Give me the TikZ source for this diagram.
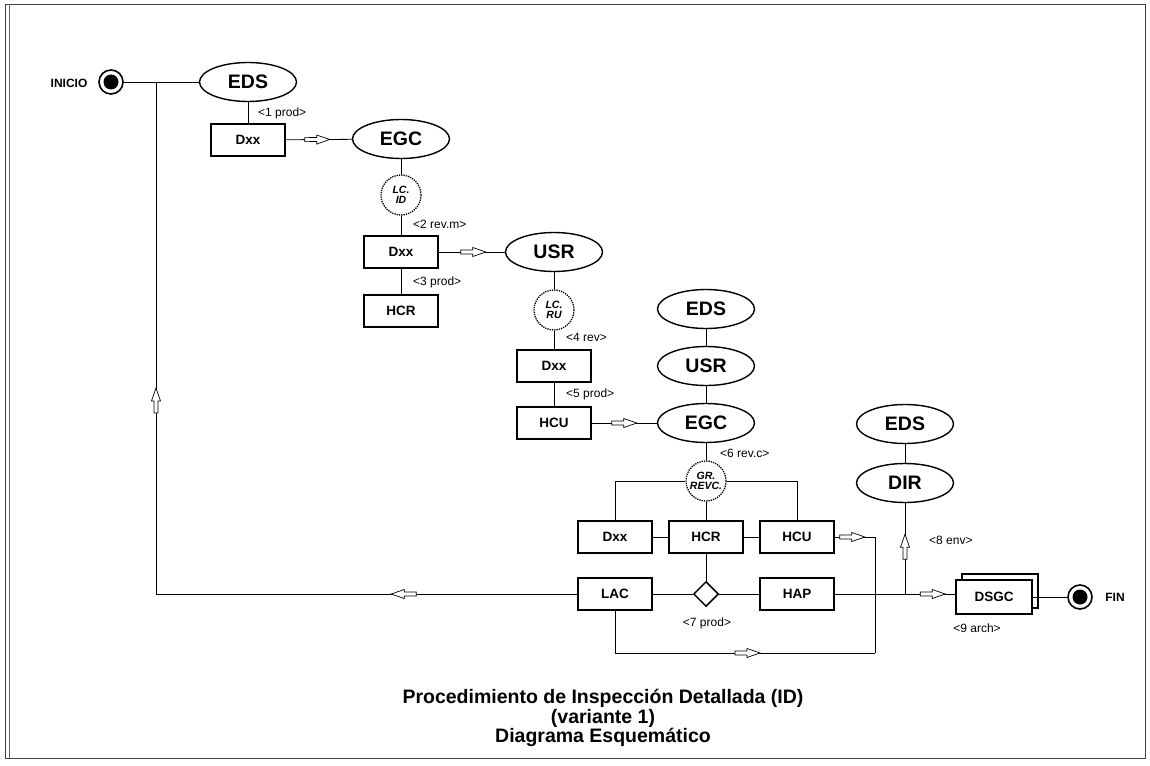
\documentclass[tikz,border=0pt]{standalone}
\usepackage{fontspec}
\setmainfont{Liberation Sans}
\usetikzlibrary{shapes.geometric,decorations.markings}

% hollow arrow head placed on a connector (tip at the mark)
\newcommand\hollowhead{%
  \draw[fill=white,line width=0.7pt,line join=miter]
    (0pt,0pt) -- (-13pt,4.5pt) -- (-13pt,2pt) -- (-25pt,2pt) -- (-25pt,-2pt)
    -- (-13pt,-2pt) -- (-13pt,-4.5pt) -- cycle;}

\tikzset{
  conn/.style={line width=0.8pt},
  flowat/.style={conn,postaction={decorate},
    decoration={markings,mark=at position #1 with {\hollowhead}}},
  ell/.style={ellipse,draw,line width=1.4pt,minimum width=97pt,minimum height=39pt,
    inner sep=0pt,fill=white,font=\fontsize{19.5}{19}\selectfont\bfseries},
  bx/.style={rectangle,draw,line width=1.5pt,minimum width=74pt,minimum height=32pt,
    inner sep=0pt,fill=white,font=\fontsize{13.5}{14}\selectfont\bfseries},
  chk/.style={circle,draw,densely dotted,line width=1.3pt,minimum size=40pt,inner sep=0pt,
    align=center,fill=white,font=\fontsize{10.5}{10}\selectfont\bfseries\itshape},
  lbl/.style={font=\fontsize{12}{12}\selectfont,inner sep=0pt},
  term/.style={circle,draw,line width=1.6pt,minimum size=24pt,inner sep=0pt},
  termtxt/.style={font=\fontsize{12}{12}\selectfont\bfseries,inner sep=0pt},
  dec/.style={diamond,draw,line width=1.5pt,minimum size=25pt,inner sep=0pt,fill=white}
}

\begin{document}
\begin{tikzpicture}[x=1pt,y=-1pt]
\useasboundingbox (0,0) rectangle (1150,765);

% frame
\draw[line width=0.8pt,black!75] (5,4) rectangle (1145,758);
\draw[line width=0.6pt,black!60] (9,4) -- (9,758);

% start / end terminals
\node[termtxt] (initxt) at (69,83) {INICIO};
\node[term] (ini) at (111,82) {};
\fill (ini.center) circle (7.5pt);

% main chain
\node[ell] (eds1) at (248,82) {EDS};
\node[bx]  (dx1)  at (248,140) {Dxx};
\node[ell] (egc1) at (401,139) {EGC};
\node[chk] (lcid) at (401,195) {LC.\\ID};
\node[bx]  (dx2)  at (401,252) {Dxx};
\node[ell] (usr1) at (554,252) {USR};
\node[bx]  (hcr1) at (401,311) {HCR};
\node[chk] (lcru) at (554,310) {LC.\\RU};
\node[bx]  (dx3)  at (554,366) {Dxx};
\node[bx]  (hcu1) at (554,423) {HCU};

\node[ell] (eds2) at (706,309) {EDS};
\node[ell] (usr2) at (706,366) {USR};
\node[ell] (egc2) at (706,423) {EGC};
\node[chk] (grr)  at (706,481) {GR.\\REVC.};

\node[bx]  (dx4)  at (615,537) {Dxx};
\node[bx]  (hcr2) at (706,537) {HCR};
\node[bx]  (hcu2) at (797,537) {HCU};
\node[bx]  (lac)  at (615,594) {LAC};
\node[dec] (dia)  at (706,594) {};
\node[bx]  (hap)  at (797,594) {HAP};

\node[ell] (eds3) at (905,424) {EDS};
\node[ell] (dir)  at (905,483) {DIR};

\node[bx,minimum width=76pt,minimum height=34pt] (dsgcb) at (1000,591) {};
\node[bx,minimum width=76pt,minimum height=34pt] (dsgc) at (994,597) {DSGC};
\node[term] (fin) at (1080,597) {};
\fill (fin.center) circle (7.5pt);
\node[termtxt] (fintxt) at (1115,597) {FIN};

% junction points
\coordinate (j0) at (156,82);
\coordinate (jl) at (156,594);
\coordinate (jd) at (905,594);
\coordinate (jh) at (875,537);
\coordinate (jb) at (875,653);
\coordinate (jlac) at (615,653);

% connectors
\draw[conn] (ini) -- (eds1);
\draw[flowat=186pt] (lac.west) -- (jl);
\draw[flowat=206pt] (jl) -- (j0);
\draw[conn] (eds1) -- (dx1);
\draw[flowat=-22pt] (dx1) -- (egc1);
\draw[conn] (egc1) -- (lcid);
\draw[conn] (lcid) -- (dx2);
\draw[flowat=-19pt] (dx2) -- (usr1);
\draw[conn] (dx2) -- (hcr1);
\draw[conn] (usr1) -- (lcru);
\draw[conn] (lcru) -- (dx3);
\draw[conn] (dx3) -- (hcu1);
\draw[flowat=-20pt] (hcu1) -- (egc2);
\draw[conn] (eds2) -- (usr2);
\draw[conn] (usr2) -- (egc2);
\draw[conn] (egc2) -- (grr);
\draw[conn] (grr) -- (hcr2);
\draw[conn] (grr.west) -- (grr.west -| dx4) -- (dx4.north);
\draw[conn] (grr.east) -- (grr.east -| hcu2) -- (hcu2.north);
\draw[conn] (dx4) -- (hcr2);
\draw[conn] (hcr2) -- (hcu2);
\draw[conn] (hcr2) -- (dia);
\draw[conn] (lac) -- (dia);
\draw[conn] (dia) -- (hap);
\draw[flowat=30pt] (hcu2.east) -- (jh);
\draw[conn] (jh) -- (jb);
\draw[conn] (lac.south) -- (jlac);
\draw[flowat=145pt] (jlac) -- (jb);
\draw[conn] (hap.east) -- (jd);
\draw[flowat=-10pt] (jd) -- (jd -| dsgc.west);
\draw[flowat=-31pt] (jd) -- (dir.south);
\draw[conn] (eds3) -- (dir);
\draw[conn] (dsgc) -- (fin);

% step labels
\node[lbl,anchor=west] (l1) at (258,113) {<1 prod>};
\node[lbl,anchor=west] (l2) at (413,224) {<2 rev.m>};
\node[lbl,anchor=west] (l3) at (413,282) {<3 prod>};
\node[lbl,anchor=west] (l4) at (566,337) {<4 rev>};
\node[lbl,anchor=west] (l5) at (566,394) {<5 prod>};
\node[lbl,anchor=west] (l6) at (720,453) {<6 rev.c>};
\node[lbl] (l7) at (707,623) {<7 prod>};
\node[lbl,anchor=west] (l8) at (929,540) {<8 env>};
\node[lbl] (l9) at (977,628) {<9 arch>};

% title
\node[align=center,font=\fontsize{19.5}{16.5}\selectfont\bfseries] (title) at (603,718)
  {Procedimiento de Inspección Detallada (ID)\\(variante 1)\\Diagrama Esquemático};
\end{tikzpicture}
\end{document}
